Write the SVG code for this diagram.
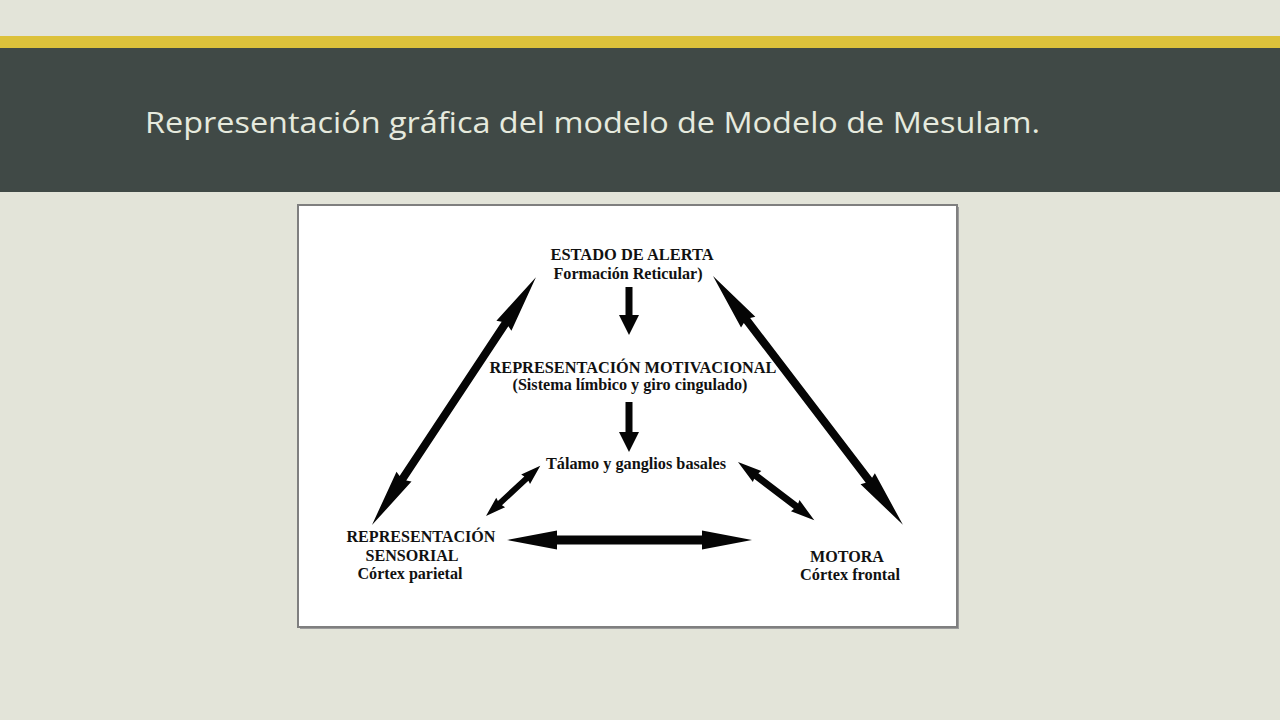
<svg xmlns="http://www.w3.org/2000/svg" width="1280" height="720" viewBox="0 0 1280 720">
<style>
.lbl{font-family:"Liberation Serif","Times New Roman",serif;font-weight:bold;font-size:16.5px;fill:#111;text-anchor:middle}
.arr{fill:#050505}
.title{font-family:"Open Sans","Noto Sans",sans-serif;font-size:30px;fill:#e6eade}
</style>
<rect x="0" y="0" width="1280" height="720" fill="#e3e4d9"/>
<rect x="0" y="36" width="1280" height="12" fill="#dcc13b"/>
<rect x="0" y="48" width="1280" height="144" fill="#404946"/>
<text class="title" x="145" y="133" textLength="895" lengthAdjust="spacingAndGlyphs">Representación gráfica del modelo de Modelo de Mesulam.</text>
<g id="frame">
<rect x="300" y="207" width="659" height="422" fill="#9c9c9c"/>
<rect x="298" y="205" width="659" height="422" fill="#ffffff" stroke="#7f7f7f" stroke-width="2"/>
</g>
<g id="connectors">
<polygon class="arr" points="625.5,287 632.5,287 632.5,315 639,315 629,335 619,315 625.5,315"/>
<polygon class="arr" points="625.5,402 632.5,402 632.5,432 639,432 629,452 619,432 625.5,432"/>
<polygon class="arr" transform="translate(372,525) rotate(-56.5)" points="0,0 58,-9 56,-4 241,-4 239,-9 297,0 239,9 241,4 56,4 58,9"/>
<polygon class="arr" transform="translate(713,276) rotate(52.65)" points="0,0 58,-9 56,-4 257,-4 255,-9 313,0 255,9 257,4 56,4 58,9"/>
<polygon class="arr" transform="translate(486,516) rotate(-42.8)" points="0,0 20,-6.5 19,-3 55,-3 54,-6.5 74,0 54,6.5 55,3 19,3 20,6.5"/>
<polygon class="arr" transform="translate(738,462) rotate(37.35)" points="0,0 24,-7 23,-3.5 73,-3.5 72,-7 96,0 72,7 73,3.5 23,3.5 24,7"/>
<polygon class="arr" transform="translate(507,540)" points="0,0 50,-9.5 50,-4.5 195,-4.5 195,-9.5 245,0 195,9.5 195,4.5 50,4.5 50,9.5"/>
</g>
<g id="alerta">
<text class="lbl" x="632" y="260" textLength="163" lengthAdjust="spacingAndGlyphs">ESTADO DE ALERTA</text>
<text class="lbl" x="628" y="279" textLength="149" lengthAdjust="spacingAndGlyphs">Formación Reticular)</text>
</g>
<g id="motivacional">
<text class="lbl" x="633" y="373" textLength="287" lengthAdjust="spacingAndGlyphs">REPRESENTACIÓN MOTIVACIONAL</text>
<text class="lbl" x="630" y="390" textLength="235" lengthAdjust="spacingAndGlyphs">(Sistema límbico y giro cingulado)</text>
</g>
<g id="talamo">
<text class="lbl" x="636" y="469" textLength="180" lengthAdjust="spacingAndGlyphs">Tálamo y ganglios basales</text>
</g>
<g id="sensorial">
<text class="lbl" x="421" y="542" textLength="149" lengthAdjust="spacingAndGlyphs">REPRESENTACIÓN</text>
<text class="lbl" x="412" y="561" textLength="93" lengthAdjust="spacingAndGlyphs">SENSORIAL</text>
<text class="lbl" x="410" y="579" textLength="105" lengthAdjust="spacingAndGlyphs">Córtex parietal</text>
</g>
<g id="motora">
<text class="lbl" x="847" y="562" textLength="74" lengthAdjust="spacingAndGlyphs">MOTORA</text>
<text class="lbl" x="850" y="580" textLength="100" lengthAdjust="spacingAndGlyphs">Córtex frontal</text>
</g>
</svg>
